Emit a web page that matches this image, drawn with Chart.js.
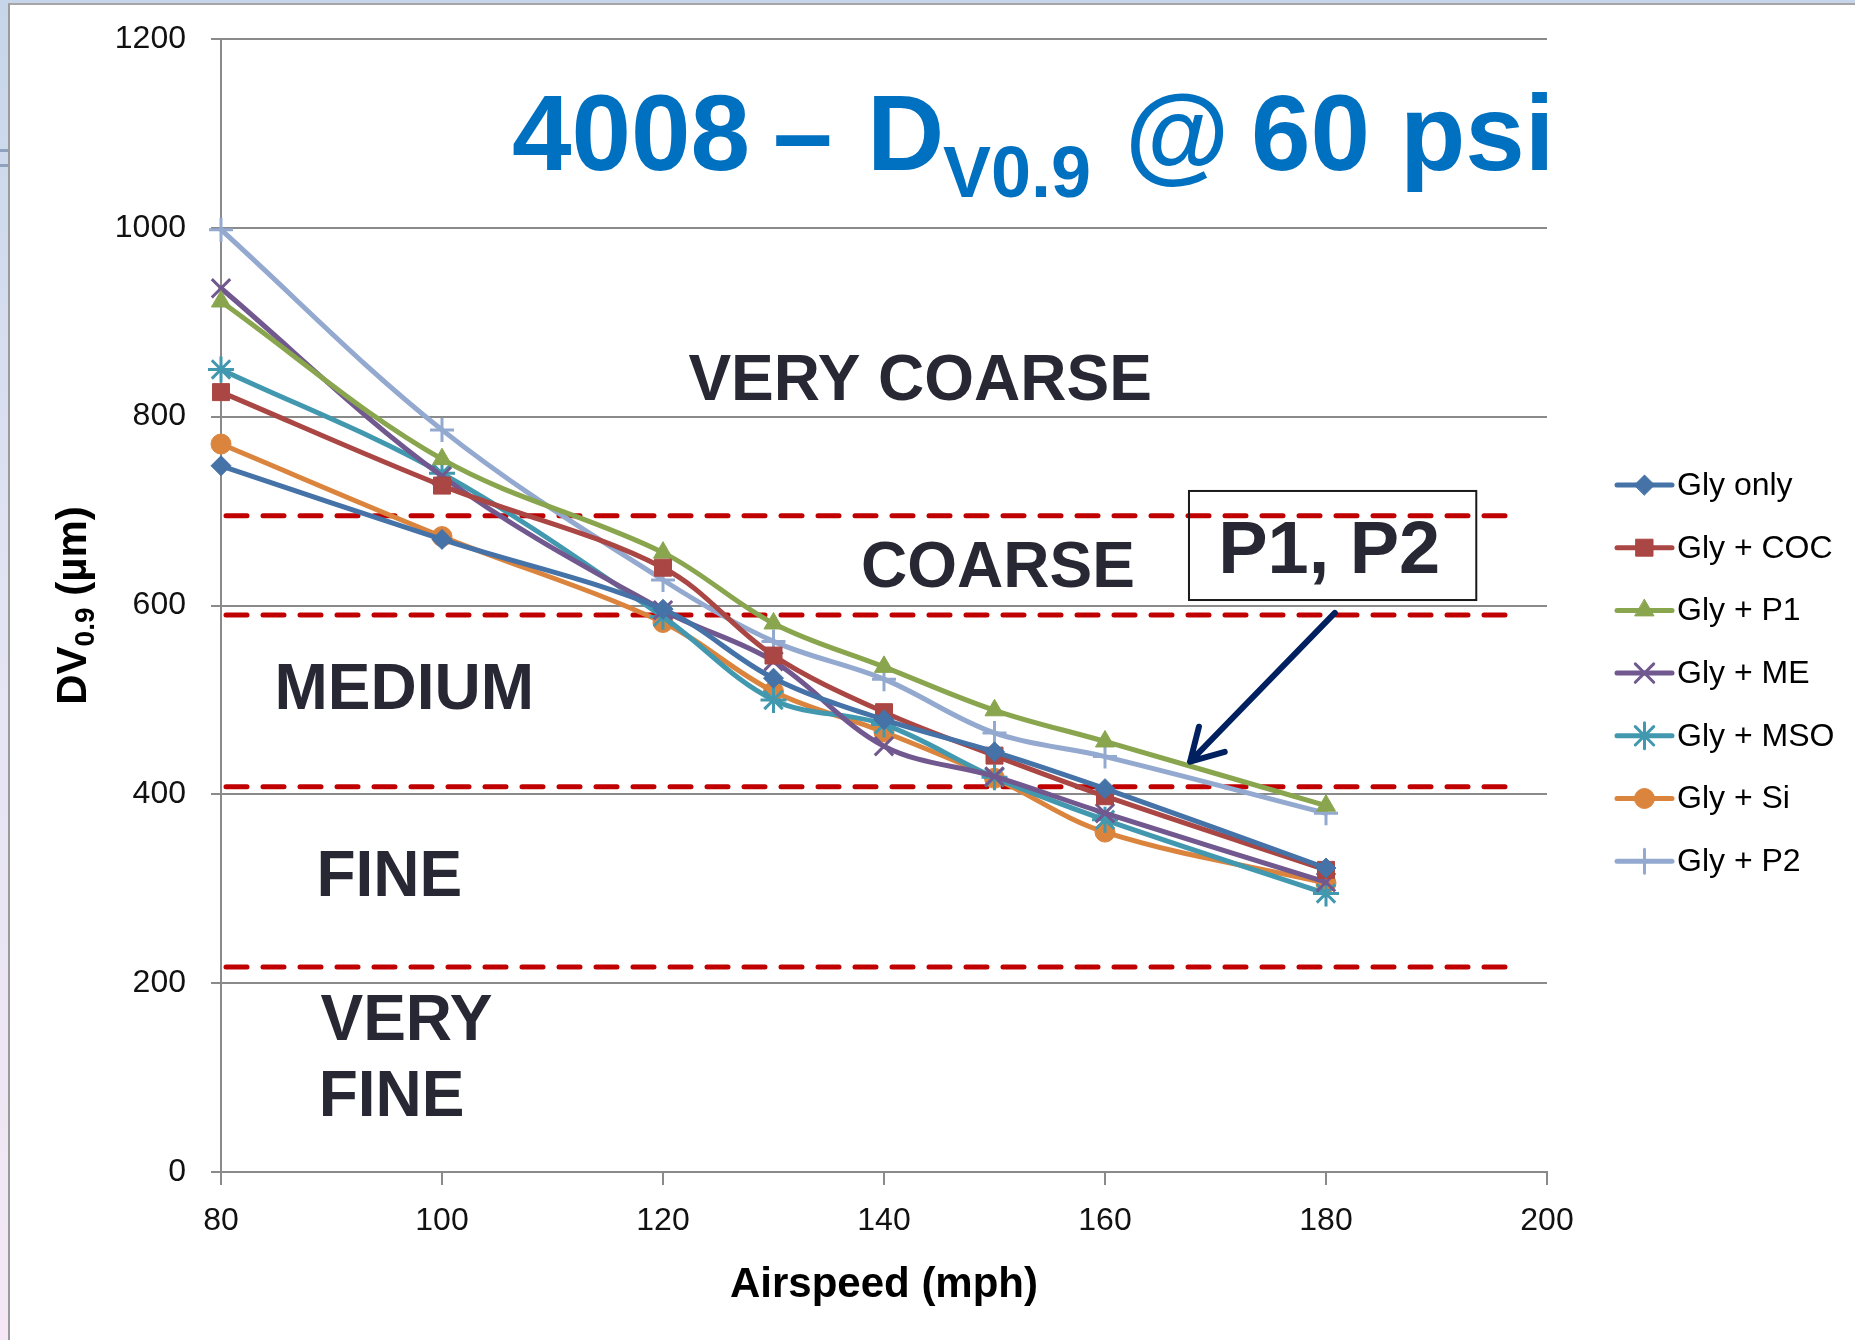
<!DOCTYPE html>
<html>
<head>
<meta charset="utf-8">
<script src="https://cdn.jsdelivr.net/npm/chart.js@4.4.1/dist/chart.umd.min.js"></script>
<style>
  html, body { margin: 0; padding: 0; }
  body {
    width: 1855px; height: 1340px; position: relative; overflow: hidden;
    background: linear-gradient(180deg, #c6d5ea 0%, #e2e4f3 45%, #f5e7f5 100%);
  }
  #sheet {
    position: absolute; left: 8px; top: 3px; right: 0; bottom: 0;
    background: #ffffff; border-left: 2px solid #9b9b9b; border-top: 2px solid #a6a6a6;
  }
  .notch { position: absolute; left: 0; width: 8px; height: 3px; background: #8ea2c0; }
  canvas { position: absolute; left: 0; top: 0; }
</style>
</head>
<body>
<div id="sheet"></div>
<div class="notch" style="top:149px"></div>
<div class="notch" style="top:164px"></div>
<canvas id="chart" width="1855" height="1340"></canvas>
<script>
// Airspeed test points (mph)
const airspeed = [80, 100, 120, 130, 140, 150, 160, 180];

// DV0.9 droplet size (µm) for each tank mix
const glyOnly = [748, 670, 596, 523, 479, 445, 406, 322];
const glyCOC  = [826, 727, 640, 547, 487, 441, 398, 320];
const glyP1   = [922, 755, 656, 581, 535, 489, 456, 388];
const glyME   = [936, 737, 595, 541, 451, 419, 380, 307];
const glyMSO  = [850, 740, 588, 500, 474, 418, 373, 295];
const glySi   = [771, 673, 582, 509, 466, 417, 360, 306];
const glyP2   = [998, 786, 627, 562, 522, 465, 440, 380];

const seriesNames = ['Gly only', 'Gly + COC', 'Gly + P1', 'Gly + ME', 'Gly + MSO', 'Gly + Si', 'Gly + P2'];
const seriesValues = [glyOnly, glyCOC, glyP1, glyME, glyMSO, glySi, glyP2];

// Droplet size class boundaries (µm) and where the boundary lines stop
const classBounds = [695, 590, 408, 217];
const boundStart = 80;
const boundEnd = 197.5;

// Axis ticks
const xTicks = [80, 100, 120, 140, 160, 180, 200];
const yTicks = [0, 200, 400, 600, 800, 1000, 1200];

// ---- styling ----
const FONT = "'Liberation Sans', Arial, Helvetica, sans-serif";
const GRID = '#8a8a8a';
const colors = ['#4572A7', '#AA4643', '#89A54E', '#71588F', '#4198AF', '#DB843D', '#93A9CF'];
const markers = [
  { style: 'rectRot',  r: 10, stroke: false },
  { style: 'rect',     r: 12, stroke: false },
  { style: 'triangle', r: 11, stroke: false },
  { style: 'crossRot', r: 13, stroke: true },
  { style: 'star',     r: 13, stroke: true },
  { style: 'circle',   r: 10, stroke: false },
  { style: 'cross',    r: 12, stroke: true }
];

// Size-class labels, placed in data units (ink left edge, baseline)
const zoneLabels = [
  { text: 'VERY COARSE', x: 122.3, y: 817.6 },
  { text: 'COARSE',      x: 138.1, y: 619.3 },
  { text: 'MEDIUM',      x: 85.2,  y: 490.8 },
  { text: 'FINE',        x: 89.0,  y: 292.3 },
  { text: 'VERY',        x: 89.0,  y: 139.8 },
  { text: 'FINE',        x: 89.2,  y: 59.3 }
];
// Callout box and arrow, in data units
const callout = { text: 'P1, P2', textX: 170.6, textY: 634.4, x0: 167.6, x1: 193.6, y0: 605.8, y1: 721.3 };
const arrow = { fromX: 180.8, fromY: 592.1, toX: 167.7, toY: 434.6 };

const datasets = [];
seriesNames.forEach((name, i) => {
  datasets.push({
    label: name,
    data: airspeed.map((x, k) => ({ x: x, y: seriesValues[i][k] })),
    borderColor: colors[i],
    backgroundColor: colors[i],
    borderWidth: 5,
    tension: 0.35,
    pointStyle: markers[i].style,
    pointRadius: markers[i].r,
    pointHoverRadius: markers[i].r,
    pointBackgroundColor: colors[i],
    pointBorderColor: colors[i],
    pointBorderWidth: markers[i].stroke ? 3 : 1,
    clip: false,
    order: 0,
    isSeries: true
  });
});
classBounds.forEach(b => {
  datasets.push({
    label: '',
    data: [{ x: boundStart, y: b }, { x: boundEnd, y: b }],
    borderColor: '#C00000',
    borderWidth: 5,
    borderDash: [21, 16],
    borderDashOffset: 32,
    pointRadius: 0,
    tension: 0,
    clip: false,
    order: 1,
    isSeries: false
  });
});

function inkText(ctx, text, inkLeft, baseline) {
  ctx.textAlign = 'left';
  ctx.textBaseline = 'alphabetic';
  const m = ctx.measureText(text);
  ctx.fillText(text, inkLeft + m.actualBoundingBoxLeft, baseline);
}

const decorations = {
  id: 'decorations',
  afterDatasetsDraw(chart) {
    const ctx = chart.ctx;
    const xs = chart.scales.x, ys = chart.scales.y;
    const px = v => xs.getPixelForValue(v);
    const py = v => ys.getPixelForValue(v);
    ctx.save();

    // size-class labels
    ctx.fillStyle = '#282834';
    ctx.font = 'bold 64px ' + FONT;
    zoneLabels.forEach(z => inkText(ctx, z.text, px(z.x), py(z.y)));

    // callout box
    ctx.strokeStyle = '#1a1a1a';
    ctx.lineWidth = 2;
    ctx.strokeRect(px(callout.x0), py(callout.y1), px(callout.x1) - px(callout.x0), py(callout.y0) - py(callout.y1));
    ctx.font = 'bold 74px ' + FONT;
    inkText(ctx, callout.text, px(callout.textX), py(callout.textY));

    // arrow
    const ax0 = px(arrow.fromX), ay0 = py(arrow.fromY);
    const ax1 = px(arrow.toX), ay1 = py(arrow.toY);
    const back = Math.atan2(ay0 - ay1, ax0 - ax1);
    const wing = 36, spread = Math.PI / 6;
    ctx.strokeStyle = '#002060';
    ctx.lineWidth = 6;
    ctx.lineCap = 'round';
    ctx.lineJoin = 'round';
    ctx.beginPath();
    ctx.moveTo(ax0, ay0);
    ctx.lineTo(ax1, ay1);
    ctx.moveTo(ax1 + wing * Math.cos(back + spread), ay1 + wing * Math.sin(back + spread));
    ctx.lineTo(ax1, ay1);
    ctx.lineTo(ax1 + wing * Math.cos(back - spread), ay1 + wing * Math.sin(back - spread));
    ctx.stroke();
    ctx.restore();
  },
  afterDraw(chart) {
    const ctx = chart.ctx;
    ctx.save();

    // title
    ctx.fillStyle = '#0070C0';
    ctx.font = 'bold 107px ' + FONT;
    inkText(ctx, '4008', 513, 170);
    inkText(ctx, '\u2013', 776, 170);
    inkText(ctx, 'D', 874, 170);
    inkText(ctx, '@', 1131, 170);
    inkText(ctx, '60', 1254, 170);
    inkText(ctx, 'psi', 1407, 170);
    ctx.font = 'bold 72px ' + FONT;
    inkText(ctx, 'V0.9', 943, 197);

    // x-axis title
    ctx.fillStyle = '#000000';
    ctx.font = 'bold 42px ' + FONT;
    ctx.textAlign = 'center';
    ctx.textBaseline = 'alphabetic';
    ctx.fillText('Airspeed (mph)', (chart.chartArea.left + chart.chartArea.right) / 2, 1297);

    // y-axis title with subscript
    ctx.save();
    ctx.translate(86, 0);
    ctx.rotate(-Math.PI / 2);
    const big = 'bold 42px ' + FONT, small = 'bold 28px ' + FONT;
    ctx.textAlign = 'left';
    ctx.font = big;  const w1 = ctx.measureText('DV').width;
    ctx.font = small; const w2 = ctx.measureText('0.9').width;
    ctx.font = big;  const w3 = ctx.measureText(' (\u00B5m)').width;
    const total = w1 + w2 + w3;
    const center = -(chart.chartArea.top + chart.chartArea.bottom) / 2;
    let x = center - total / 2;
    ctx.font = big;  ctx.fillText('DV', x, 0); x += w1;
    ctx.font = small; ctx.fillText('0.9', x, 8); x += w2;
    ctx.font = big;  ctx.fillText(' (\u00B5m)', x, 0);
    ctx.restore();

    // legend
    const legendTop = 485, legendStep = 62.7;
    const lx0 = 1617, lx1 = 1672;
    ctx.font = '32px ' + FONT;
    chart.data.datasets.filter(d => d.isSeries).forEach((d, i) => {
      const y = legendTop + i * legendStep;
      ctx.strokeStyle = d.borderColor;
      ctx.lineWidth = 5;
      ctx.lineCap = 'round';
      ctx.beginPath();
      ctx.moveTo(lx0, y);
      ctx.lineTo(lx1, y);
      ctx.stroke();
      ctx.fillStyle = d.pointBackgroundColor;
      ctx.strokeStyle = d.pointBorderColor;
      ctx.lineWidth = d.pointBorderWidth;
      Chart.helpers.drawPoint(ctx, {
        pointStyle: d.pointStyle, radius: d.pointRadius, rotation: 0, borderWidth: d.pointBorderWidth
      }, (lx0 + lx1) / 2, y);
      ctx.fillStyle = '#000000';
      ctx.textAlign = 'left';
      ctx.textBaseline = 'middle';
      ctx.fillText(d.label, 1677, y + 1);
    });
    ctx.restore();
  }
};

new Chart(document.getElementById('chart'), {
  type: 'line',
  data: { datasets: datasets },
  plugins: [decorations],
  options: {
    responsive: false,
    animation: false,
    devicePixelRatio: 1,
    layout: { autoPadding: false, padding: { left: 0, right: 308, top: 39, bottom: 0 } },
    plugins: { legend: { display: false }, tooltip: { enabled: false }, title: { display: false } },
    elements: { line: { borderCapStyle: 'round', borderJoinStyle: 'round' } },
    scales: {
      x: {
        type: 'linear', min: 80, max: 200,
        afterBuildTicks: s => { s.ticks = xTicks.map(v => ({ value: v })); },
        afterFit: s => { s.height = 168; s.paddingLeft = 0; s.paddingRight = 0; },
        ticks: { font: { family: FONT, size: 32 }, color: '#111111', padding: 17, maxRotation: 0, autoSkip: false,
                 callback: v => String(v) },
        grid: { drawOnChartArea: false, drawTicks: true, tickLength: 13, color: GRID, lineWidth: 2 },
        border: { display: true, color: GRID, width: 2 }
      },
      y: {
        type: 'linear', min: 0, max: 1200,
        afterBuildTicks: s => { s.ticks = yTicks.map(v => ({ value: v })); },
        afterFit: s => { s.width = 221; s.paddingTop = 0; s.paddingBottom = 0; },
        ticks: { font: { family: FONT, size: 32 }, color: '#111111', padding: 25, callback: v => String(v) },
        grid: { color: GRID, lineWidth: 2, tickLength: 10 },
        border: { display: true, color: GRID, width: 2 }
      }
    }
  }
});
</script>
</body>
</html>
